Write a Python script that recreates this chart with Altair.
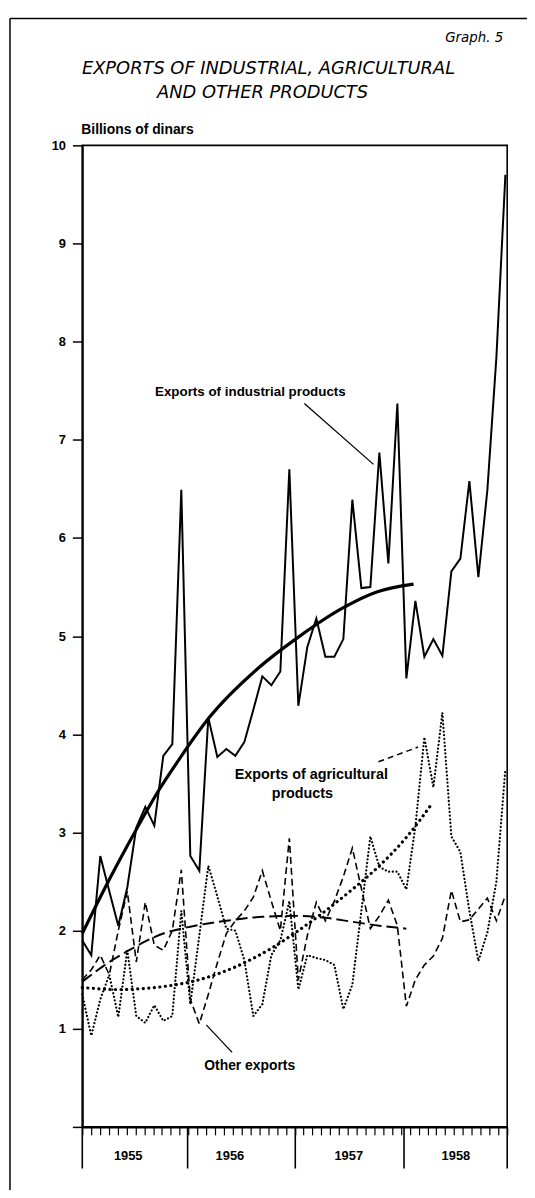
import altair as alt
import pandas as pd

# ---------------- data ----------------
months = list(range(48))  # Jan 1955 ... Dec 1958

industrial = [1.90, 1.75, 2.76, 2.40, 2.05, 2.44, 3.05, 3.26, 3.07, 3.78, 3.90, 6.49,
              2.76, 2.61, 4.17, 3.77, 3.85, 3.78, 3.92, 4.25, 4.59, 4.50, 4.64, 6.70,
              4.29, 4.89, 5.18, 4.79, 4.79, 4.97, 6.39, 5.49, 5.50, 6.87, 5.74, 7.37,
              4.57, 5.36, 4.79, 4.97, 4.80, 5.66, 5.79, 6.58, 5.60, 6.49, 7.84, 9.70]

agricultural = [1.35, 0.93, 1.30, 1.55, 1.12, 1.80, 1.13, 1.06, 1.24, 1.08, 1.13, 2.20,
                1.25, 1.95, 2.66, 2.35, 2.02, 2.00, 1.70, 1.13, 1.25, 1.75, 1.90, 2.30,
                1.40, 1.75, 1.72, 1.70, 1.65, 1.20, 1.45, 2.20, 2.96, 2.65, 2.60, 2.60,
                2.42, 3.06, 3.97, 3.46, 4.22, 2.96, 2.80, 2.20, 1.69, 1.98, 2.50, 3.65]

other = [1.50, 1.60, 1.75, 1.55, 2.00, 2.40, 1.68, 2.29, 1.85, 1.80, 2.00, 2.62,
         1.30, 1.05, 1.35, 1.67, 1.97, 2.10, 2.20, 2.34, 2.61, 2.30, 2.00, 2.94,
         1.50, 1.95, 2.29, 2.10, 2.30, 2.55, 2.84, 2.43, 2.02, 2.15, 2.31, 2.05,
         1.23, 1.50, 1.65, 1.74, 1.92, 2.41, 2.09, 2.11, 2.22, 2.33, 2.10, 2.36]

# smooth trend curves (read at a few points along each curve)
ind_trend_m = [0, 3, 6, 8.5, 10.65, 14.1, 19.5, 24, 29, 32.7, 36.8]
ind_trend_v = [1.97, 2.52, 3.03, 3.43, 3.73, 4.17, 4.67, 4.99, 5.29, 5.45, 5.53]

agr_trend_m = [0, 4, 9, 13, 17, 21, 24, 27, 30, 33, 36, 38.9]
agr_trend_v = [1.42, 1.40, 1.43, 1.50, 1.63, 1.82, 2.00, 2.20, 2.42, 2.66, 2.95, 3.30]

oth_trend_m = [0, 3, 5, 9, 12, 16, 20, 24, 27, 30, 33, 36]
oth_trend_v = [1.48, 1.68, 1.79, 1.97, 2.04, 2.10, 2.14, 2.15, 2.13, 2.09, 2.05, 2.02]

year_labels = ["1955", "1956", "1957", "1958"]
year_label_pos = [5.1, 16.4, 29.6, 41.5]
year_bounds = [0, 11.7, 23.66, 35.74, 47.2]

y_ticks = list(range(0, 11))
month_ticks = [round(k * 47.2 / 48, 3) for k in range(49)]

# annotation labels (text, month position, value)
ann_text = ["Exports of industrial products", "Exports of agricultural", "products", "Other exports"]
ann_m = [18.67, 25.44, 24.45, 18.6]
ann_v = [7.49, 3.585, 3.39, 0.624]
ann_size = [13.5, 14.5, 14.5, 14]

# pointer lines (start / end in month, value)
ptr_id = ["ind", "ind", "agr", "agr", "oth", "oth"]
ptr_m = [24.67, 32.35, 32.9, 37.3, 13.77, 16.64]
ptr_v = [7.37, 6.75, 3.72, 3.87, 1.04, 0.76]

# ---------------- chart ----------------
W, H = 429, 991
xs = alt.Scale(domain=[0, 47.2], nice=False, zero=False)
ys = alt.Scale(domain=[0, 10], nice=False, zero=True)

df = pd.DataFrame({"month": months, "industrial": industrial,
                   "agricultural": agricultural, "other": other})

x_axis = alt.Axis(values=month_ticks, labels=False, ticks=True, tickSize=8,
                  tickWidth=1.2, tickColor="black", domain=True, domainColor="black",
                  domainWidth=2, grid=False, title=None)
y_axis = alt.Axis(values=y_ticks, labelExpr="datum.value == 0 ? '' : datum.label",
                  tickSize=10, tickWidth=1.5, tickColor="black", domain=True,
                  domainColor="black", domainWidth=2, labelFont="Liberation Sans",
                  labelFontSize=13, labelFontWeight="bold", labelColor="black",
                  labelPadding=7, grid=False, title=None)


def X(field):
    return alt.X(field, scale=xs, axis=x_axis)


def Y(field):
    return alt.Y(field, scale=ys, axis=y_axis)


ind_line = alt.Chart(df).mark_line(color="black", strokeWidth=2, strokeJoin="miter").encode(
    x=X("month:Q"), y=Y("industrial:Q"))
agr_line = alt.Chart(df).mark_line(color="black", strokeWidth=2.2, strokeCap="round",
                                   strokeDash=[0.1, 3.6]).encode(
    x=X("month:Q"), y=Y("agricultural:Q"))
oth_line = alt.Chart(df).mark_line(color="black", strokeWidth=1.6,
                                   strokeDash=[7, 4]).encode(
    x=X("month:Q"), y=Y("other:Q"))

ind_tr = alt.Chart(pd.DataFrame({"m": ind_trend_m, "v": ind_trend_v})).mark_line(
    color="black", strokeWidth=3.2, interpolate="monotone").encode(
    x=X("m:Q"), y=Y("v:Q"))
agr_tr = alt.Chart(pd.DataFrame({"m": agr_trend_m, "v": agr_trend_v})).mark_line(
    color="black", strokeWidth=3.2, strokeCap="round", strokeDash=[0.1, 5.5],
    interpolate="monotone").encode(
    x=X("m:Q"), y=Y("v:Q"))
oth_tr = alt.Chart(pd.DataFrame({"m": oth_trend_m, "v": oth_trend_v})).mark_line(
    color="black", strokeWidth=2, strokeDash=[12, 5], interpolate="monotone").encode(
    x=X("m:Q"), y=Y("v:Q"))

# pointers
ptr_df = pd.DataFrame({"id": ptr_id, "m": ptr_m, "v": ptr_v})
ptr_solid = alt.Chart(ptr_df).transform_filter("datum.id != 'agr'").mark_line(
    color="black", strokeWidth=1.3).encode(
    x=X("m:Q"), y=Y("v:Q"), detail="id:N")
ptr_dash = alt.Chart(ptr_df).transform_filter("datum.id == 'agr'").mark_line(
    color="black", strokeWidth=1.5, strokeDash=[6, 4]).encode(
    x=X("m:Q"), y=Y("v:Q"), detail="id:N")

ann = alt.Chart(pd.DataFrame({"t": ann_text, "m": ann_m, "v": ann_v, "s": ann_size})).mark_text(
    font="Liberation Sans", fontWeight="bold", color="black", align="center",
    baseline="middle").encode(
    x=X("m:Q"), y=Y("v:Q"),
    text="t:N", size=alt.Size("s:Q", scale=None, legend=None))

# x axis decorations: year separators and labels
sep = alt.Chart(pd.DataFrame({"b": year_bounds})).mark_rule(
    color="black", strokeWidth=1.6).encode(
    x=X("b:Q"), y=alt.value(H), y2=alt.value(H + 42))
yl = alt.Chart(pd.DataFrame({"y": year_labels, "p": year_label_pos})).mark_text(
    font="Liberation Sans", fontWeight="bold", fontSize=13, color="black",
    baseline="middle").encode(
    x=X("p:Q"), y=alt.value(H + 29), text="y:N")


# titles
def label(txt, x, y, size, align="center", style="italic", weight="normal", font="DejaVu Sans"):
    return alt.Chart(pd.DataFrame({"t": [txt]})).mark_text(
        font=font, fontSize=size, fontStyle=style, fontWeight=weight, color="black",
        align=align, baseline="middle").encode(
        x=alt.value(x), y=alt.value(y), text="t:N")


graph_no = label("Graph. 5", 425, -108, 13.5, align="right")
title1 = label("EXPORTS OF INDUSTRIAL, AGRICULTURAL", 188, -77, 18)
title2 = label("AND OTHER PRODUCTS", 182, -53, 18)
unit = label("Billions of dinars", -1, -15, 14, align="left", style="normal",
             weight="bold", font="Liberation Sans")

# page frame (top and left edges of the scanned page)
frame_top = alt.Chart(pd.DataFrame({"k": [0]})).mark_rule(color="black", strokeWidth=1.5).encode(
    x=alt.value(-73), x2=alt.value(W + 30), y=alt.value(-128))
frame_left = alt.Chart(pd.DataFrame({"k": [0]})).mark_rule(color="black", strokeWidth=1.5).encode(
    x=alt.value(-73), y=alt.value(-128), y2=alt.value(H + 70))

chart = alt.layer(
    oth_tr, agr_tr, oth_line, agr_line, ind_tr, ind_line,
    ptr_solid, ptr_dash, ann, sep, yl,
    graph_no, title1, title2, unit, frame_top, frame_left,
).properties(
    width=W, height=H,
    background="white",
    padding={"left": 75, "top": 133, "right": 20, "bottom": 58},
    autosize=alt.AutoSizeParams(type="none"),
).configure_view(
    stroke="black", strokeWidth=1.6
)

chart.save("out.html", embed_options={"renderer": "svg", "actions": False})
